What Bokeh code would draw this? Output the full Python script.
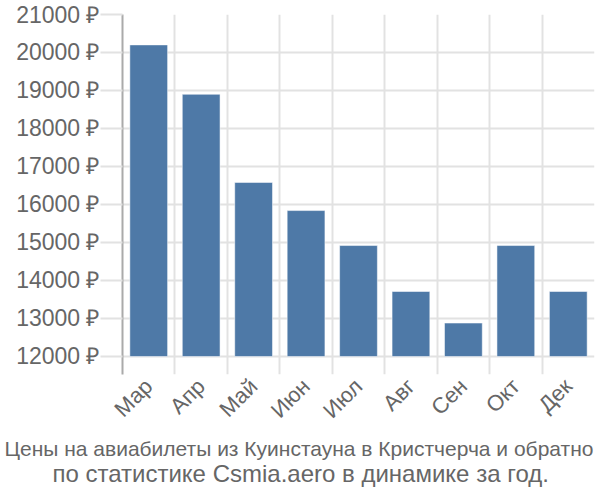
from bokeh.plotting import figure
from bokeh.models import Range1d, FixedTicker, PrintfTickFormatter, Title
from bokeh.embed import file_html
from bokeh.resources import INLINE
import math

months = ["Мар", "Апр", "Май", "Июн", "Июл", "Авг", "Сен", "Окт", "Дек"]
prices = [20200, 18900, 16580, 15840, 14920, 13710, 12880, 14920, 13710]
y_ticks = [12000, 13000, 14000, 15000, 16000, 17000, 18000, 19000, 20000, 21000]
title_lines = ["Цены на авиабилеты из Куинстауна в Кристчерча и обратно",
               "по статистике Csmia.aero в динамике за год."]

FONT = "Liberation Sans"
TXT = "#666666"
GRID = "#e2e2e2"

xs = [i + 0.5 for i in range(len(months))]

p = figure(frame_width=472, frame_height=360,
           output_backend="svg", toolbar_location=None,
           x_range=Range1d(0, len(months)), y_range=Range1d(11526, 21000),
           min_border_left=122, min_border_right=6, min_border_top=14,
           min_border_bottom=126)
p.outline_line_color = None

p.vbar(x=xs, top=prices, bottom=12000, width=0.72,
       fill_color="#4e79a7", line_color="white", line_alpha=0.5, line_width=1)

# y axis
p.yaxis.ticker = FixedTicker(ticks=y_ticks)
p.yaxis.formatter = PrintfTickFormatter(format="%d ₽")
p.yaxis.axis_line_color = "#aaaaaa"
p.yaxis.axis_line_width = 2
p.yaxis.major_tick_out = 22
p.yaxis.major_tick_in = 0
p.yaxis.major_tick_line_color = GRID
p.yaxis.major_tick_line_width = 2
p.yaxis.minor_tick_line_color = None
p.yaxis.major_label_standoff = 1
p.yaxis.major_label_text_font = FONT
p.yaxis.major_label_text_font_size = "23px"
p.yaxis.major_label_text_color = TXT

# x axis
p.xaxis.ticker = FixedTicker(ticks=xs)
p.xaxis.major_label_overrides = {x: m for x, m in zip(xs, months)}
p.xaxis.major_label_orientation = math.pi / 4
p.xaxis.axis_line_color = None
p.xaxis.major_tick_line_color = None
p.xaxis.minor_tick_line_color = None
p.xaxis.major_label_standoff = 2
p.xaxis.major_label_text_font = FONT
p.xaxis.major_label_text_font_size = "22px"
p.xaxis.major_label_text_color = TXT

# grids
p.xgrid.ticker = FixedTicker(ticks=list(range(len(months) + 1)))
p.xgrid.grid_line_color = GRID
p.xgrid.grid_line_width = 2
p.ygrid.ticker = FixedTicker(ticks=y_ticks)
p.ygrid.grid_line_color = GRID
p.ygrid.grid_line_width = 2

sizes = ["21px", "24px"]
offsets = [-118, -70]
standoffs = [0, -4]
for line, sz, off, so in zip(title_lines, sizes, offsets, standoffs):
    t = Title(text=line, align="left", offset=off, standoff=so,
              text_font=FONT, text_font_size=sz,
              text_font_style="normal", text_color=TXT)
    p.add_layout(t, "below")

open("out.html", "w").write(file_html(p, INLINE))
